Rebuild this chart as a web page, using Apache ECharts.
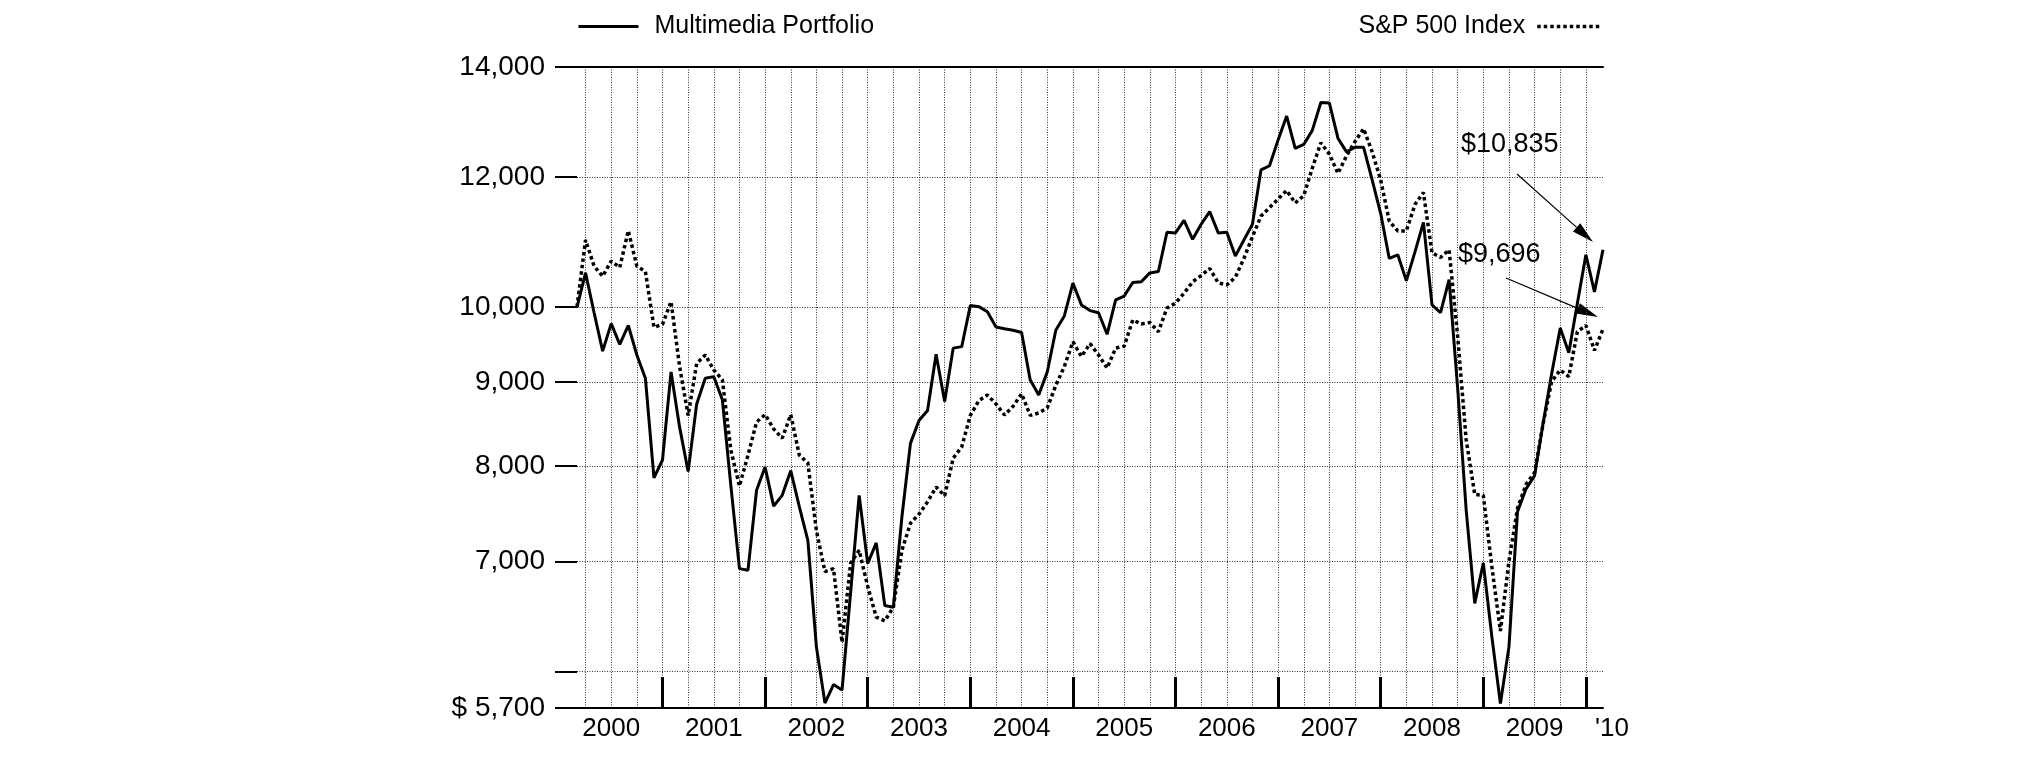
<!DOCTYPE html>
<html>
<head>
<meta charset="utf-8">
<script src="https://cdn.jsdelivr.net/npm/echarts@6.0.0/dist/echarts.min.js"></script>
<style>
html,body{margin:0;padding:0;background:#fff;}
#chart{width:2025px;height:761px;}
</style>
</head>
<body>
<div id="chart"></div>
<script>
// ---- data (month-end values, growth of $10,000; Feb 2000 .. Feb 2010) ----
const seriesNames = ['Multimedia Portfolio', 'S&P 500 Index'];
const yearLabels = ['2000','2001','2002','2003','2004','2005','2006','2007','2008','2009'];
const endLabel = "'10";
const multimedia = [
  10000,10490,9920,9400,9770,9490,9745,9350,9050,7870,8070,9130,
  8450,7940,8730,9050,9070,8780,7780,6930,6915,7735,7990,7565,
  7680,7950,7560,7210,6210,5740,5890,5845,6700,7680,6980,7185,
  6580,6565,7450,8260,8530,8650,9360,8760,9440,9460,10020,10005,
  9935,9725,9700,9680,9650,9030,8840,9130,9680,9875,10340,10030,
  9950,9920,9625,10100,10155,10350,10360,10490,10510,11105,11095,11290,
  10995,11230,11430,11095,11105,10740,10985,11230,12120,12190,12640,13070,
  12490,12560,12810,13320,13310,12670,12430,12510,12510,11950,11400,10705,
  10760,10375,10800,11260,10030,9920,10390,8925,7520,6600,6985,6300,
  5735,6210,7505,7750,7895,8500,9110,9710,9380,10050,10760,10215,
  10835
];
const sp500 = [
  10000,10985,10590,10440,10665,10570,11130,10590,10510,9720,9760,10075,
  9200,8590,9240,9350,9155,9030,8180,7780,8125,8510,8600,8430,
  8320,8600,8125,8035,7310,6900,6930,6250,6980,7110,6760,6475,
  6440,6565,7110,7385,7480,7610,7770,7675,8090,8220,8590,8770,
  8840,8730,8595,8700,8855,8590,8620,8680,8960,9200,9525,9330,
  9500,9350,9180,9440,9465,9820,9765,9785,9660,9985,10055,10195,
  10360,10450,10555,10345,10315,10425,10705,11035,11360,11495,11635,11775,
  11570,11690,12150,12590,12390,12060,12360,12610,12840,12430,11950,11280,
  11125,11125,11545,11740,10790,10720,10835,9600,8300,7690,7680,6950,
  6350,7000,7540,7800,7930,8495,9010,9155,9070,9660,9745,9410,
  9696
];
const yTickValues = [5700, 6000, 7000, 8000, 9000, 10000, 12000, 14000];
const yLabelValues = [5700, 7000, 8000, 9000, 10000, 12000, 14000];
const endValueLabels = ['$10,835', '$9,696'];

// ---- derived helpers ----
const FONT = "'Liberation Sans', Arial, Helvetica, sans-serif";
const lastIdx = multimedia.length - 1;            // index 0 = Feb 2000
const yearEnds = yearLabels.map((_, k) => 10 + 12 * k);   // December month index
const yearMids = yearEnds.map(v => v - 6);
const quarterLines = [];
for (let v = 1; v <= lastIdx; v += 3) quarterLines.push(v);
const lnTicks = yTickValues.map(v => Math.log(v));
const lnLabels = yLabelValues.map(v => Math.log(v));

function fmtThousands(n) { return String(n).replace(/\B(?=(\d{3})+(?!\d))/g, ','); }
function yLabel(val) {
  let best = yLabelValues[0];
  for (const v of yLabelValues) {
    if (Math.abs(Math.log(v) - val) < Math.abs(Math.log(best) - val)) best = v;
  }
  return best === yLabelValues[0] ? '$ ' + fmtThousands(best) : fmtThousands(best);
}
function xLabel(val) {
  if (val > yearEnds[yearEnds.length - 1]) return '{e|' + endLabel + '}';
  return yearLabels[Math.round((val - yearMids[0]) / 12)];
}
function arrow(x1, y1, x2, y2) {
  const dx = x2 - x1, dy = y2 - y1, L = Math.hypot(dx, dy);
  const ux = dx / L, uy = dy / L, hl = 22, hw = 5.5;
  const bx = x2 - ux * hl, by = y2 - uy * hl;
  return [
    { type: 'line', shape: { x1: x1, y1: y1, x2: bx, y2: by }, style: { stroke: '#000', lineWidth: 1.2 } },
    { type: 'polygon', shape: { points: [[x2, y2], [bx - uy * hw, by + ux * hw], [bx + uy * hw, by - ux * hw]] }, style: { fill: '#000' } }
  ];
}

const dotted = { color: '#333', width: 1, type: [1, 1.5] };

const chart = echarts.init(document.getElementById('chart'), null, { renderer: 'canvas' });
chart.setOption({
  animation: false,
  backgroundColor: '#fff',
  textStyle: { fontFamily: FONT, color: '#000' },
  grid: { left: 577, right: 422, top: 67, bottom: 53, containLabel: false },
  legend: [
    {
      data: [seriesNames[0]], left: 577, top: 14, padding: 0,
      itemWidth: 60, itemHeight: 14,
      itemStyle: { opacity: 0 },
      lineStyle: { width: 3, color: '#000' },
      textStyle: { fontFamily: FONT, fontSize: 25, color: '#000', padding: [0, 0, 0, 11] }
    },
    {
      data: [seriesNames[1]], right: 424, top: 14, padding: 0, align: 'right',
      itemWidth: 62, itemHeight: 14,
      itemStyle: { opacity: 0 },
      lineStyle: { width: 3.5, color: '#000', type: [3.5, 3] },
      textStyle: { fontFamily: FONT, fontSize: 25, color: '#000', padding: [0, 7, 0, 0] }
    }
  ],
  xAxis: [
    {
      type: 'value', min: 0, max: lastIdx, position: 'bottom',
      axisLine: { show: true, onZero: false, lineStyle: { color: '#000', width: 2 } },
      axisTick: { show: true, inside: true, length: 31, customValues: yearEnds, lineStyle: { color: '#000', width: 3 } },
      axisLabel: {
        show: true, customValues: yearMids.concat([lastIdx]), formatter: xLabel,
        fontFamily: FONT, fontSize: 26, color: '#000', margin: 8,
        rich: { e: { fontFamily: FONT, fontSize: 26, color: '#000', padding: [0, 0, 0, 18] } }
      },
      splitLine: { show: false }
    },
    {
      type: 'value', min: 0, max: lastIdx, position: 'top',
      axisLine: { show: true, onZero: false, lineStyle: { color: '#000', width: 2 } },
      axisTick: { show: false, customValues: quarterLines },
      axisLabel: { show: false },
      splitLine: { show: true, customValues: quarterLines, lineStyle: dotted }
    }
  ],
  yAxis: [
    {
      type: 'value', min: Math.log(yTickValues[0]), max: Math.log(yTickValues[yTickValues.length - 1]),
      axisLine: { show: false },
      axisTick: { show: true, inside: false, length: 22, customValues: lnTicks, lineStyle: { color: '#000', width: 2 } },
      axisLabel: { show: true, customValues: lnLabels, formatter: yLabel, fontFamily: FONT, fontSize: 28, color: '#000', margin: 32 },
      splitLine: { show: true, customValues: lnTicks, lineStyle: dotted }
    }
  ],
  series: [
    {
      name: seriesNames[0], type: 'line', xAxisIndex: 0, yAxisIndex: 0,
      data: multimedia.map((v, i) => [i, Math.log(v)]),
      symbol: 'none', z: 4,
      lineStyle: { color: '#000', width: 3 },
      itemStyle: { color: '#000' }
    },
    {
      name: seriesNames[1], type: 'line', xAxisIndex: 0, yAxisIndex: 0,
      data: sp500.map((v, i) => [i, Math.log(v)]),
      symbol: 'none', z: 3,
      lineStyle: { color: '#000', width: 3.5, type: [3.5, 3] },
      itemStyle: { color: '#000' }
    }
  ],
  graphic: {
    elements: [
      { type: 'text', x: 1461, y: 145, style: { text: endValueLabels[0], font: '27px ' + FONT, fill: '#000', verticalAlign: 'middle' } },
      { type: 'text', x: 1458, y: 255, style: { text: endValueLabels[1], font: '27px ' + FONT, fill: '#000', verticalAlign: 'middle' } }
    ].concat(arrow(1517, 174, 1593, 242), arrow(1506, 278, 1598, 317))
  }
});
</script>
</body>
</html>
